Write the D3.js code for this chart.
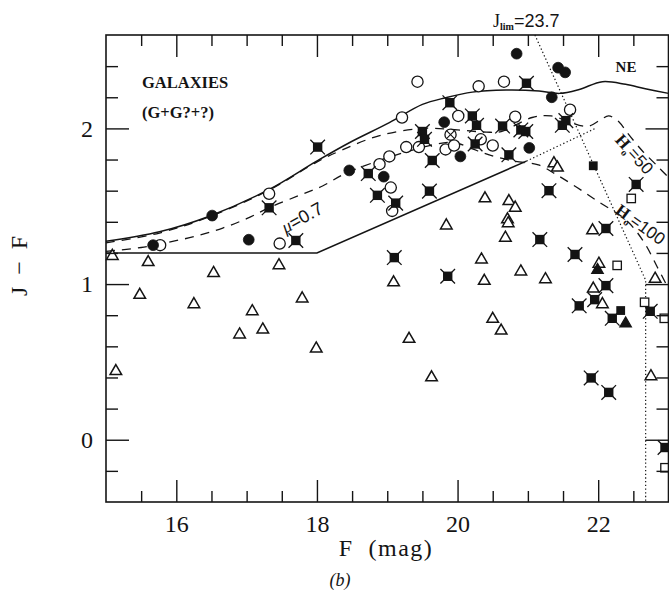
<!DOCTYPE html>
<html><head><meta charset="utf-8">
<script src="https://cdn.jsdelivr.net/npm/d3@7"></script>
<style>body{margin:0;background:#fff}svg{display:block}</style>
</head><body><svg id="c" width="669" height="597"></svg>
<script>
// ---------- data ----------
const xMajorTicks=[16,18,20,22];
const xMinorTicks=[15.5,16.5,17,17.5,18.5,19,19.5,20.5,21,21.5,22.5];
const yMajorTicks=[0,1,2];
const yMinorTicks=[-0.2,0.2,0.4,0.6,0.8,1.2,1.4,1.6,1.8,2.2,2.4];

const openCircles=[[15.77,1.25],[17.32,1.58],[17.47,1.26],[19.03,1.82],[18.89,1.77],[19.05,1.62],[19.07,1.47],[19.21,2.07],[19.43,2.30],[19.27,1.88],[19.45,1.88],[19.83,1.865],[19.95,1.89],[20.01,2.08],[20.30,2.27],[20.66,2.30],[20.33,1.93],[20.50,1.89],[20.82,2.075],[21.60,2.12]];
const filledCircles=[[15.67,1.25],[16.51,1.44],[17.03,1.285],[18.46,1.73],[18.95,1.69],[19.81,2.04],[20.04,1.82],[21.02,1.875],[21.34,2.20],[20.84,2.48],[21.43,2.39],[21.53,2.36]];
const crossedCircles=[[19.90,1.96]];
const crossedSquares=[[17.32,1.49],[17.70,1.28],[18.01,1.88],[18.73,1.71],[18.86,1.57],[19.12,1.52],[19.60,1.597],[19.64,1.794],[19.50,1.98],[19.53,1.93],[19.89,2.165],[20.21,2.08],[20.27,2.02],[20.25,1.90],[20.64,2.015],[20.73,1.83],[20.90,1.99],[20.97,1.98],[20.98,2.29],[21.49,2.02],[21.54,2.05],[21.30,1.60],[21.17,1.286],[21.67,1.19],[22.11,1.357],[22.54,1.64],[19.10,1.17],[19.86,1.05],[22.11,0.99],[21.95,0.90],[21.73,0.86],[22.20,0.78],[22.74,0.825],[21.90,0.397],[22.15,0.304],[22.95,-0.05]];
const filledSquares=[[21.93,1.76],[22.32,0.83]];
const openSquares=[[22.47,1.55],[22.27,1.12],[22.66,0.883],[22.94,0.78],[22.95,-0.18]];
const filledTriangles=[[21.99,1.09],[22.39,0.746]];
const openTriangles=[[15.09,1.18],[15.14,0.44],[15.48,0.93],[15.60,1.14],[16.25,0.87],[16.53,1.07],[16.90,0.675],[17.08,0.825],[17.23,0.707],[17.46,1.12],[17.79,0.907],[17.99,0.585],[19.31,0.647],[19.63,0.40],[20.34,1.157],[20.38,1.02],[20.50,0.776],[20.62,0.70],[20.90,1.08],[21.25,1.03],[19.84,1.376],[20.39,1.55],[20.73,1.532],[20.82,1.49],[20.71,1.415],[20.72,1.39],[20.68,1.297],[21.37,1.775],[21.42,1.747],[21.92,1.344],[22.01,1.13],[22.81,1.033],[21.93,0.97],[22.06,0.87],[22.75,0.407],[19.09,1.01]];

// model curves
const neCurve=[[15.0,1.275],[15.76,1.336],[16.47,1.436],[17.32,1.608],[17.99,1.788],[18.46,1.908],[19.03,2.037],[19.5,2.154],[19.83,2.197],[20.21,2.233],[20.69,2.246],[21.16,2.24],[21.45,2.225],[21.73,2.25],[22.06,2.30],[22.39,2.283],[22.67,2.255],[23.0,2.225]];
const h50Curve=[[15.0,1.265],[15.76,1.328],[16.47,1.432],[17.32,1.604],[17.99,1.782],[18.36,1.862],[18.88,1.952],[19.5,2.0],[20.0,1.99],[20.41,1.976],[20.62,1.98],[21.06,2.07],[21.33,2.08],[21.73,2.02],[21.87,2.015],[22.05,2.06],[22.15,2.08],[22.3,2.04],[22.41,1.974],[22.62,1.86],[22.86,1.75],[23.0,1.685]];
const h100Curve=[[15.0,1.21],[15.5,1.235],[15.9,1.27],[16.3,1.31],[16.66,1.36],[17.0,1.42],[17.32,1.49],[17.75,1.57],[18.08,1.63],[18.4,1.71],[18.8,1.78],[19.2,1.84],[19.6,1.89],[19.95,1.91],[20.2,1.87],[20.45,1.83],[20.8,1.79],[21.15,1.765],[21.4,1.705],[21.7,1.62],[22.0,1.53],[22.4,1.41],[22.65,1.27],[22.84,1.11],[23.0,0.97]];
const boundarySolid=[[15.0,1.2],[18.0,1.2],[20.98,1.79]];
const boundaryDotted=[[20.98,1.79],[21.96,2.0]];
const jLimLine=[[21.1,2.6],[22.675,1.025],[22.675,-0.4]];

// ---------- layout ----------
const svg=d3.select('#c');
const L=106,R=668.5,T=35,B=502;
const x=d3.scaleLinear().domain([15,23]).range([L,R]);
const y=d3.scaleLinear().domain([-0.4,2.6]).range([B,T]);
const ink='#141414';
const serif='"Liberation Serif","Times New Roman",serif';

// lines
const line=d3.line().x(d=>x(d[0])).y(d=>y(d[1]));
const smooth=d3.line().x(d=>x(d[0])).y(d=>y(d[1])).curve(d3.curveCatmullRom.alpha(0.5));
const g=svg.append('g');
g.append('path').attr('d',smooth(neCurve)).attr('fill','none').attr('stroke',ink).attr('stroke-width',1.5);
g.append('path').attr('d',smooth(h50Curve)).attr('fill','none').attr('stroke',ink).attr('stroke-width',1.3).attr('stroke-dasharray','9,7');
g.append('path').attr('d',smooth(h100Curve)).attr('fill','none').attr('stroke',ink).attr('stroke-width',1.3).attr('stroke-dasharray','9,7');
g.append('path').attr('d',line(boundarySolid)).attr('fill','none').attr('stroke',ink).attr('stroke-width',1.5);
g.append('path').attr('d',line(boundaryDotted)).attr('fill','none').attr('stroke',ink).attr('stroke-width',1.2).attr('stroke-dasharray','1.3,2.4');
g.append('path').attr('d',line(jLimLine)).attr('fill','none').attr('stroke',ink).attr('stroke-width',1.2).attr('stroke-dasharray','1.3,2.4');

// markers
const m=svg.append('g');
m.selectAll('.oc').data(openCircles).join('circle').attr('cx',d=>x(d[0])).attr('cy',d=>y(d[1])).attr('r',5.6).attr('fill','#fff').attr('stroke',ink).attr('stroke-width',1.3);
m.selectAll('.fc').data(filledCircles).join('circle').attr('cx',d=>x(d[0])).attr('cy',d=>y(d[1])).attr('r',5.4).attr('fill',ink).attr('stroke',ink).attr('stroke-width',0.8);
const cc=m.selectAll('.cc').data(crossedCircles).join('g').attr('transform',d=>`translate(${x(d[0])},${y(d[1])})`);
cc.append('circle').attr('r',5.6).attr('fill','#fff').attr('stroke',ink).attr('stroke-width',1.3);
cc.append('path').attr('d','M-3.5,-3.5L3.5,3.5M-3.5,3.5L3.5,-3.5').attr('stroke',ink).attr('stroke-width',1.1);
const xs=m.selectAll('.xs').data(crossedSquares).join('g').attr('transform',d=>`translate(${x(d[0])},${y(d[1])})`);
xs.append('rect').attr('x',-4.7).attr('y',-4.7).attr('width',9.4).attr('height',9.4).attr('fill',ink);
xs.append('path').attr('d','M-7.3,-7.3L7.3,7.3M-7.3,7.3L7.3,-7.3').attr('stroke',ink).attr('stroke-width',1.3);
const tri=d3.symbol().type(d3.symbolTriangle).size(58);
m.selectAll('.ot').data(openTriangles).join('path').attr('d',tri).attr('transform',d=>`translate(${x(d[0])},${y(d[1])})`).attr('fill','#fff').attr('stroke',ink).attr('stroke-width',1.5);
m.selectAll('.ft').data(filledTriangles).join('path').attr('d',tri).attr('transform',d=>`translate(${x(d[0])},${y(d[1])})`).attr('fill',ink).attr('stroke',ink).attr('stroke-width',1.2);
m.selectAll('.os').data(openSquares).join('rect').attr('x',d=>x(d[0])-4.2).attr('y',d=>y(d[1])-4.2).attr('width',8.4).attr('height',8.4).attr('fill','#fff').attr('stroke',ink).attr('stroke-width',1.3);
m.selectAll('.fs').data(filledSquares).join('rect').attr('x',d=>x(d[0])-4.4).attr('y',d=>y(d[1])-4.4).attr('width',8.8).attr('height',8.8).attr('fill',ink);

// axes (ticks inward on all sides)
function styleAxis(sel){sel.select('.domain').remove();sel.selectAll('.tick line').attr('stroke',ink).attr('stroke-width',1.4);
  sel.selectAll('text').attr('fill',ink).style('font-family',serif).style('font-size','24px');}
svg.append('g').attr('transform',`translate(0,${B})`).call(d3.axisBottom(x).tickValues(xMajorTicks).tickSize(-22).tickPadding(13).tickFormat(d3.format('d'))).call(styleAxis);
svg.append('g').attr('transform',`translate(0,${B})`).call(d3.axisBottom(x).tickValues(xMinorTicks).tickSize(-11).tickFormat('')).call(styleAxis);
svg.append('g').attr('transform',`translate(0,${T})`).call(d3.axisTop(x).tickValues(xMajorTicks).tickSize(-22).tickFormat('')).call(styleAxis);
svg.append('g').attr('transform',`translate(0,${T})`).call(d3.axisTop(x).tickValues(xMinorTicks).tickSize(-11).tickFormat('')).call(styleAxis);
svg.append('g').attr('transform',`translate(${L},0)`).call(d3.axisLeft(y).tickValues(yMajorTicks).tickSize(-23).tickPadding(13).tickFormat(d3.format('d'))).call(styleAxis);
svg.append('g').attr('transform',`translate(${L},0)`).call(d3.axisLeft(y).tickValues(yMinorTicks).tickSize(-12).tickFormat('')).call(styleAxis);
svg.append('g').attr('transform',`translate(${R},0)`).call(d3.axisRight(y).tickValues(yMajorTicks).tickSize(-23).tickFormat('')).call(styleAxis);
svg.append('g').attr('transform',`translate(${R},0)`).call(d3.axisRight(y).tickValues(yMinorTicks).tickSize(-12).tickFormat('')).call(styleAxis);
svg.append('rect').attr('x',L).attr('y',T).attr('width',R-L).attr('height',B-T).attr('fill','none').attr('stroke',ink).attr('stroke-width',1.6);

// text
function txt(s,xx,yy,opt={}){return svg.append('text').attr('x',xx).attr('y',yy).text(s).attr('fill',ink)
  .style('font-family',opt.family||serif).style('font-size',(opt.size||16)+'px').style('font-weight',opt.weight||'normal')
  .style('font-style',opt.style||'normal').attr('text-anchor',opt.anchor||'start');}
txt('GALAXIES',142,88,{size:16.5,weight:'bold'});
txt('(G+G?+?)',142,118,{size:16.5,weight:'bold'});
txt('NE',626,72,{size:15,weight:'bold',anchor:'middle'});
txt('F  (mag)',386,556,{size:24,anchor:'middle'}).style('white-space','pre').style('letter-spacing','1.5px');
txt('(b)',340,586,{size:18,style:'italic',anchor:'middle'});
txt('J  \u2212  F',0,0,{size:24,anchor:'middle'}).style('white-space','pre').attr('transform','translate(27,266) rotate(-90)');
// mu label
const mu=svg.append('text').attr('transform','translate(305,223) rotate(-29)').attr('text-anchor','middle').attr('fill',ink)
  .style('font-family','"Liberation Sans",Arial,sans-serif').style('font-size','18px');
mu.append('tspan').text('\u03bc').style('font-family',serif).style('font-style','italic');
mu.append('tspan').text('=0.7');
// H0 labels
function hlab(val,cx,cy,ang){const t=svg.append('text').attr('transform',`translate(${cx},${cy}) rotate(${ang})`).attr('text-anchor','middle').attr('fill',ink)
  .style('font-family','"Liberation Sans",Arial,sans-serif').style('font-size','17px');
  t.append('tspan').text('H').style('font-family',serif).style('font-weight','bold');
  t.append('tspan').text('o').attr('dy',4).style('font-size','10px').style('font-family',serif).style('font-weight','bold');
  t.append('tspan').text('='+val).attr('dy',-4);}
hlab('50',630,158,48);
hlab('100',637,229,36);
// J lim label
const jl=svg.append('text').attr('x',493).attr('y',27).attr('fill',ink).style('font-family','"Liberation Sans",Arial,sans-serif').style('font-size','18px');
jl.append('tspan').text('J').style('font-family',serif);
jl.append('tspan').text('lim').attr('dy',3).style('font-size','10px').style('font-weight','bold').style('font-family',serif);
jl.append('tspan').text('=23.7').attr('dy',-3);
</script></body></html>
